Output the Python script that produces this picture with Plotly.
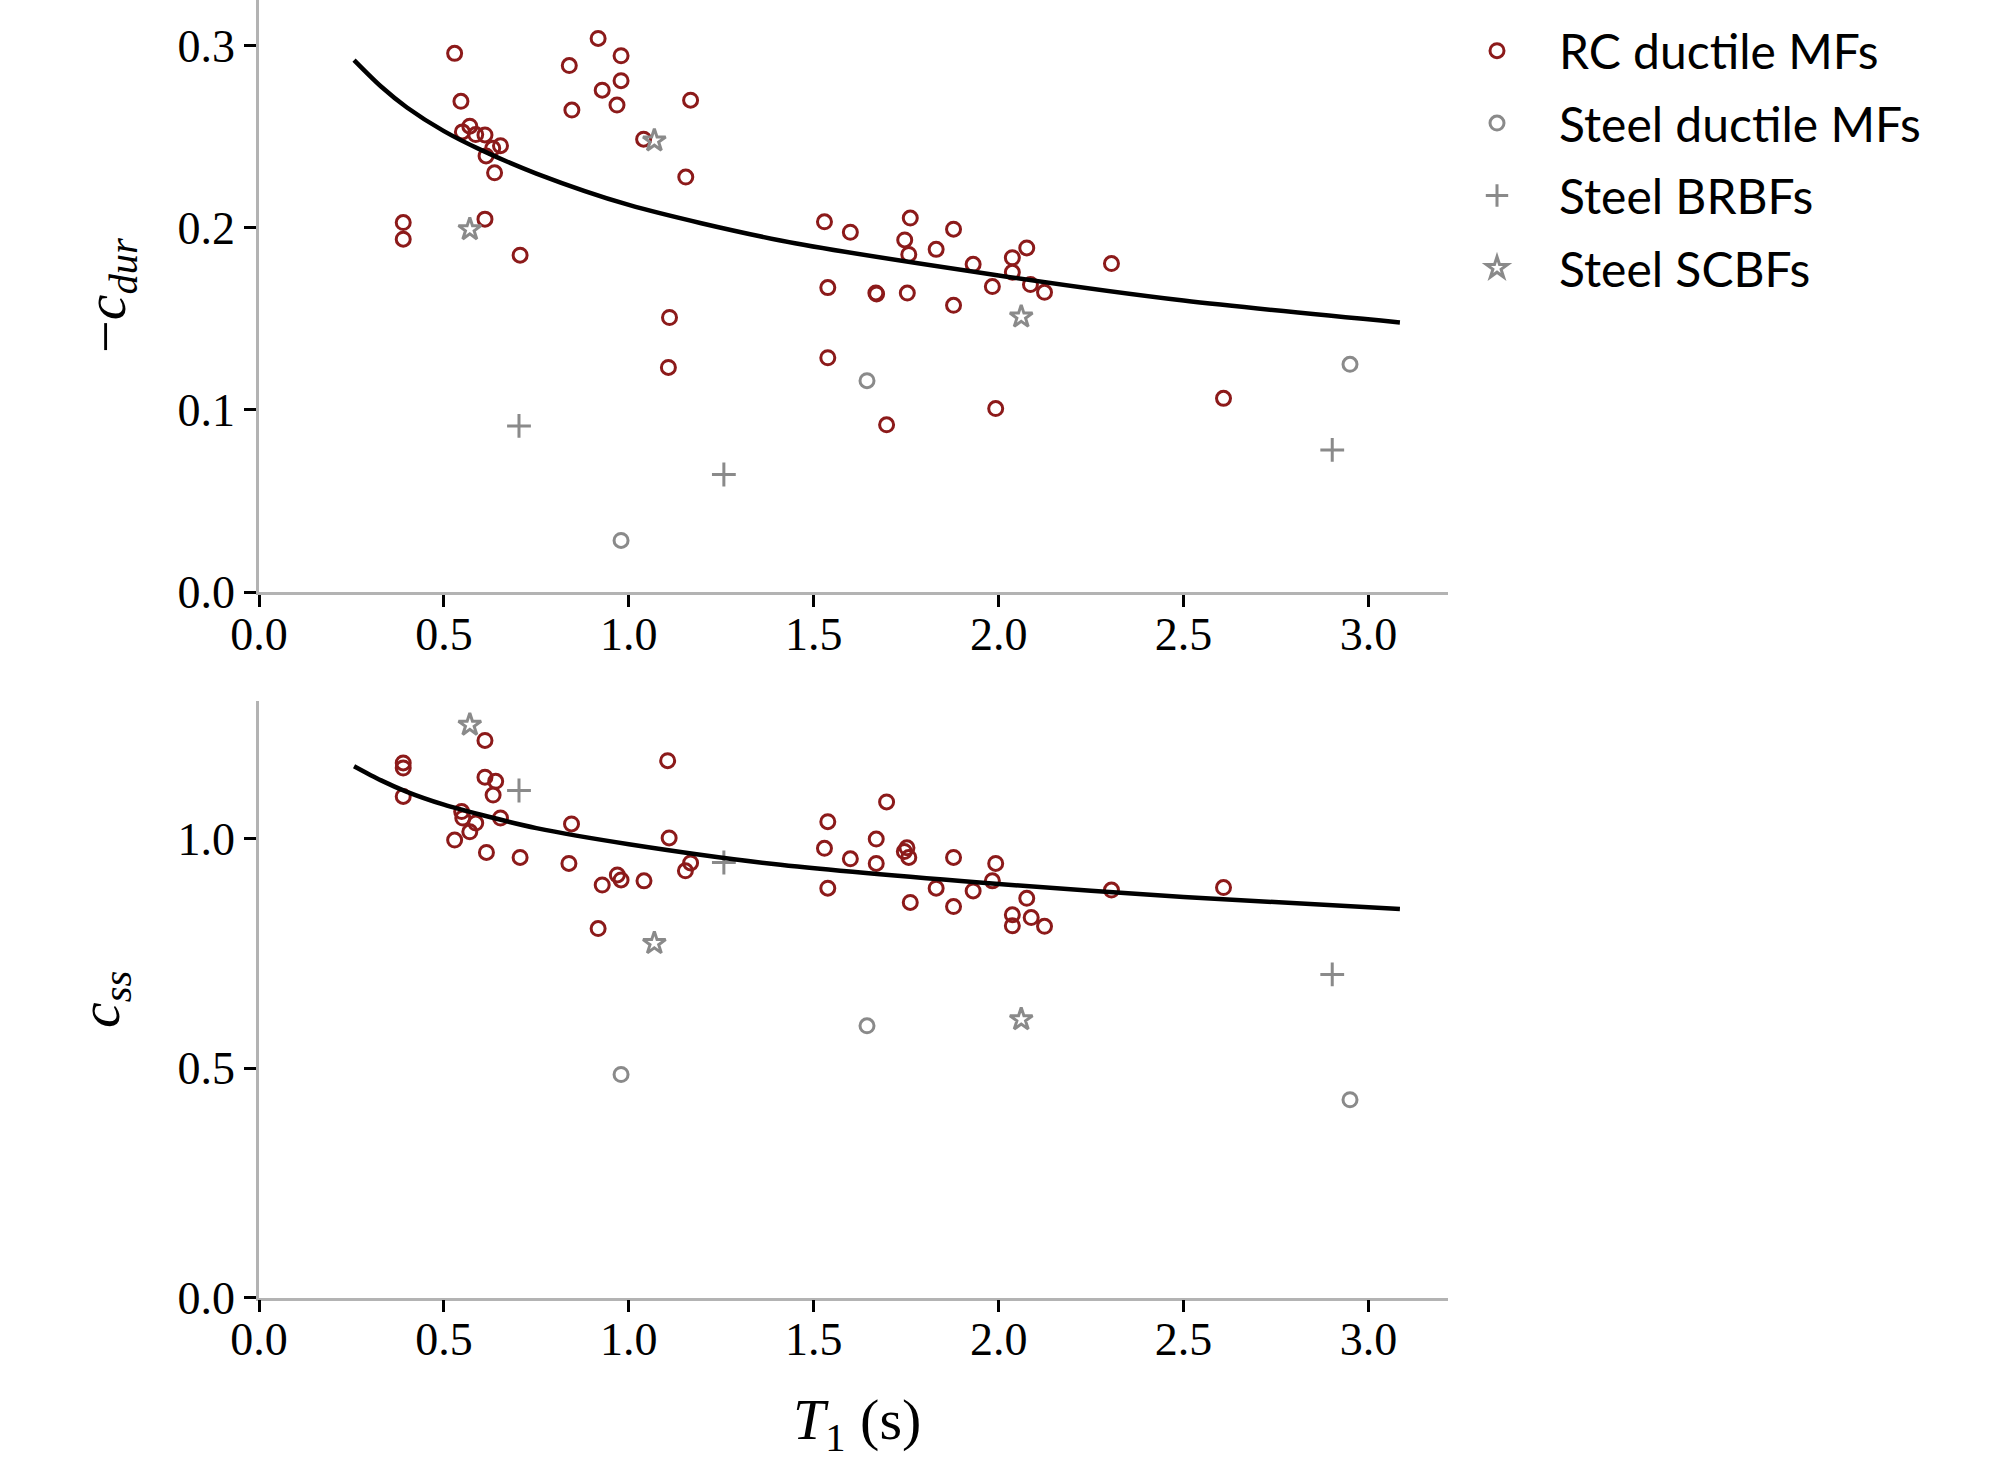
import plotly.graph_objects as go

# ---- upper panel: -c_dur versus first-mode period T1 ----
rc_t_dur = [0.390, 0.390, 0.529, 0.546, 0.550, 0.570, 0.586, 0.611, 0.614, 0.632,
            0.653, 0.637, 0.611, 0.706, 0.839, 0.917, 0.979, 0.979, 0.928, 0.846,
            0.968, 1.167, 1.040, 1.154, 1.110, 1.107,
            1.529, 1.599, 1.761, 1.746, 1.757, 1.878, 1.831, 1.931, 2.037, 2.076,
            2.037, 2.086, 2.124, 1.983, 2.305, 1.538, 1.668, 1.670, 1.753, 1.878,
            1.538, 1.697, 1.992, 2.608]
rc_cdur = [0.2028, 0.1937, 0.2957, 0.2694, 0.2526, 0.2557, 0.2511, 0.2509, 0.2394, 0.2436,
           0.2450, 0.2301, 0.2047, 0.1849, 0.2890, 0.3039, 0.2944, 0.2807, 0.2755, 0.2646,
           0.2673, 0.2700, 0.2486, 0.2278, 0.1507, 0.1233,
           0.2032, 0.1975, 0.2053, 0.1933, 0.1853, 0.1992, 0.1881, 0.1799, 0.1835, 0.1889,
           0.1755, 0.1688, 0.1645, 0.1677, 0.1803, 0.1671, 0.1642, 0.1636, 0.1641, 0.1574,
           0.1286, 0.0918, 0.1007, 0.1063]

smf_t_dur = [0.979, 1.644, 2.950]
smf_cdur = [0.0283, 0.1160, 0.1250]
brbf_t_dur = [0.703, 1.257, 2.902]
brbf_cdur = [0.0912, 0.0645, 0.0780]
scbf_t_dur = [0.570, 1.069, 2.061]
scbf_cdur = [0.1991, 0.2478, 0.1511]

fit_t_dur = [0.257, 0.33, 0.4, 0.5, 0.6, 0.75, 1.0, 1.41, 2.0, 2.5, 3.085]
fit_cdur = [0.292, 0.2775, 0.266, 0.253, 0.2427, 0.2297, 0.2125, 0.193, 0.1738, 0.160, 0.148]

# ---- lower panel: c_ss versus T1 ----
rc_t_ss = [0.611, 0.390, 0.390, 0.390, 0.611, 0.640, 0.633, 1.105, 0.548, 0.551,
           0.586, 0.570, 0.529, 0.653, 0.615, 0.706, 0.845, 0.838, 1.109, 0.969,
           0.979, 0.928, 1.041, 1.167, 1.153, 0.917,
           1.697, 1.538, 1.529, 1.599, 1.669, 1.669, 1.752, 1.745, 1.757, 1.761,
           1.878, 1.831, 1.878, 1.931, 1.992, 1.983, 2.076, 2.037, 2.037, 2.088,
           2.124, 2.305, 1.538, 2.608]
rc_css = [1.214, 1.165, 1.154, 1.092, 1.134, 1.125, 1.095, 1.170, 1.059, 1.045,
          1.034, 1.015, 0.997, 1.045, 0.970, 0.959, 1.032, 0.946, 1.0015, 0.921,
          0.910, 0.899, 0.908, 0.947, 0.930, 0.804,
          1.080, 1.037, 0.979, 0.956, 0.999, 0.946, 0.980, 0.972, 0.959, 0.861,
          0.959, 0.892, 0.852, 0.886, 0.946, 0.908, 0.870, 0.834, 0.810, 0.828,
          0.809, 0.888, 0.892, 0.8935]

smf_t_ss = [0.979, 1.644, 2.950]
smf_css = [0.486, 0.592, 0.431]
brbf_t_ss = [0.703, 1.257, 2.902]
brbf_css = [1.105, 0.948, 0.704]
scbf_t_ss = [0.570, 1.069, 2.061]
scbf_css = [1.248, 0.772, 0.606]

fit_t_ss = [0.257, 0.33, 0.4, 0.5, 0.6, 0.75, 1.0, 1.41, 2.0, 2.5, 3.085]
fit_css = [1.158, 1.127, 1.102, 1.074, 1.052, 1.023, 0.988, 0.943, 0.901, 0.873, 0.8465]

x_ticks = [0, 0.5, 1.0, 1.5, 2.0, 2.5, 3.0]
x_ticklabels = ["0.0", "0.5", "1.0", "1.5", "2.0", "2.5", "3.0"]
dur_ticks = [0, 0.1, 0.2, 0.3]
dur_ticklabels = ["0.0", "0.1", "0.2", "0.3"]
ss_ticks = [0, 0.5, 1.0]
ss_ticklabels = ["0.0", "0.5", "1.0"]

RED = "#8c1a1a"
GREY = "#8a8a8a"
SERIF = "Liberation Serif"
SANS = "Lato"

W, H = 2001, 1461
X0, X1 = 259, 1448          # plot area, pixels from left
TOP = (0, 592)              # upper plot area, pixels from top
BOT = (701, 1297.5)         # lower plot area, pixels from top


def ydom(top, bottom):
    return [1 - bottom / H, 1 - top / H]


fig = go.Figure()

groups = [
    ("RC ductile MFs", dict(symbol="circle-open", size=14, color=RED, line=dict(width=3, color=RED)),
     (rc_t_dur, rc_cdur), (rc_t_ss, rc_css)),
    ("Steel ductile MFs", dict(symbol="circle-open", size=14, color=GREY, line=dict(width=3, color=GREY)),
     (smf_t_dur, smf_cdur), (smf_t_ss, smf_css)),
    ("Steel BRBFs", dict(symbol="cross-thin-open", size=17, color=GREY, line=dict(width=3, color=GREY)),
     (brbf_t_dur, brbf_cdur), (brbf_t_ss, brbf_css)),
    ("Steel SCBFs", dict(symbol="star-open", size=17, color=GREY, line=dict(width=3, color=GREY)),
     (scbf_t_dur, scbf_cdur), (scbf_t_ss, scbf_css)),
]

for name, marker, (tx, ty), (bx, by) in groups:
    fig.add_trace(go.Scatter(x=tx, y=ty, mode="markers", name=name, marker=marker,
                             legendgroup=name, showlegend=True, xaxis="x", yaxis="y"))
    fig.add_trace(go.Scatter(x=bx, y=by, mode="markers", name=name, marker=marker,
                             legendgroup=name, showlegend=False, xaxis="x2", yaxis="y2"))

fig.add_trace(go.Scatter(x=fit_t_dur, y=fit_cdur, mode="lines",
                         line=dict(color="black", width=4.5, shape="spline", smoothing=0.8),
                         showlegend=False, xaxis="x", yaxis="y"))
fig.add_trace(go.Scatter(x=fit_t_ss, y=fit_css, mode="lines",
                         line=dict(color="black", width=4.5, shape="spline", smoothing=0.8),
                         showlegend=False, xaxis="x2", yaxis="y2"))

axis_common = dict(
    showgrid=False, zeroline=False, showline=True, linecolor="#b3b3b3", linewidth=2.5,
    ticks="outside", ticklen=12, tickwidth=2.5, tickcolor="black", automargin=False,
    tickfont=dict(family=SERIF, size=46, color="black"), mirror=False,
)

xdom = [X0 / W, X1 / W]
fig.update_layout(
    width=W, height=H,
    margin=dict(l=0, r=0, t=0, b=0, autoexpand=False),
    paper_bgcolor="white", plot_bgcolor="white",
    xaxis=dict(domain=xdom, range=[0, 3.215], tickvals=x_ticks, ticktext=x_ticklabels,
               anchor="y", ticklabelstandoff=-12, **axis_common),
    yaxis=dict(domain=ydom(*TOP), range=[0, 0.325], tickvals=dur_ticks, ticktext=dur_ticklabels,
               anchor="x", **axis_common),
    xaxis2=dict(domain=xdom, range=[0, 3.215], tickvals=x_ticks, ticktext=x_ticklabels,
                anchor="y2", ticklabelstandoff=-12, **axis_common),
    yaxis2=dict(domain=ydom(*BOT), range=[0, 1.30], tickvals=ss_ticks, ticktext=ss_ticklabels,
                anchor="x2", **axis_common),
    legend=dict(x=1435 / W, y=1 - 13 / H, xanchor="left", yanchor="top",
                font=dict(family=SANS, size=48, color="black"),
                bgcolor="rgba(0,0,0,0)", itemwidth=114, tracegroupgap=7),
    showlegend=True,
)

# axis titles
fig.add_annotation(x=110 / W, y=1 - 296 / H, xref="paper", yref="paper",
                   text="−<i>c</i><sub><i>dur</i></sub>", textangle=-90, showarrow=False,
                   font=dict(family=SERIF, size=58, color="black"), xanchor="center", yanchor="middle")
fig.add_annotation(x=103 / W, y=1 - 1000 / H, xref="paper", yref="paper",
                   text="<i>c</i><sub><i>ss</i></sub>", textangle=-90, showarrow=False,
                   font=dict(family=SERIF, size=58, color="black"), xanchor="center", yanchor="middle")
fig.add_annotation(x=857 / W, y=1 - 1423 / H, xref="paper", yref="paper",
                   text="<i>T</i><sub>1</sub> (s)", showarrow=False,
                   font=dict(family=SERIF, size=58, color="black"), xanchor="center", yanchor="middle")

fig.write_html("out.html")
